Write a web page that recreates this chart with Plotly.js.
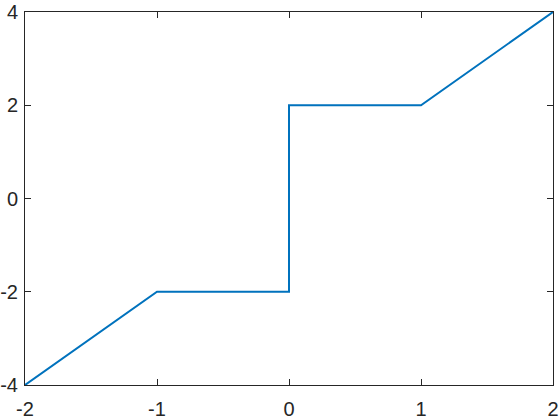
<!DOCTYPE html>
<html>
<head>
<meta charset="utf-8">
<script src="https://cdn.plot.ly/plotly-3.0.1.min.js"></script>
<style>html,body{margin:0;padding:0;background:#fff;}#plot{width:560px;height:420px;}</style>
</head>
<body>
<div id="plot"></div>
<script>
const xValues = [-2, -1, 0, 0, 1, 2];
const yValues = [-4, -2, -2, 2, 2, 4];
const xTicks = [-2, -1, 0, 1, 2];
const yTicks = [-4, -2, 0, 2, 4];

const axisCommon = {
  showgrid: false, zeroline: false, showline: true, mirror: 'ticks',
  linecolor: '#262626', linewidth: 1, ticks: 'inside', ticklen: 6,
  tickcolor: '#262626', tickfont: {family: 'Liberation Sans, Arial, sans-serif', size: 20, color: '#262626'}
};

Plotly.newPlot('plot', [{
  x: xValues, y: yValues, type: 'scatter', mode: 'lines',
  line: {color: '#0072BD', width: 2}, hoverinfo: 'none'
}], {
  width: 560, height: 420,
  margin: {l: 25, r: 7, t: 12, b: 35},
  paper_bgcolor: '#fff', plot_bgcolor: '#fff',
  showlegend: false,
  xaxis: Object.assign({}, axisCommon, {range: [-2, 2], tickvals: xTicks, ticktext: xTicks.map(String), ticklabelstandoff: 6}),
  yaxis: Object.assign({}, axisCommon, {range: [-4, 4], tickvals: yTicks, ticktext: yTicks.map(String), ticklabelstandoff: 2})
}, {displayModeBar: false, staticPlot: true});
</script>
</body>
</html>
